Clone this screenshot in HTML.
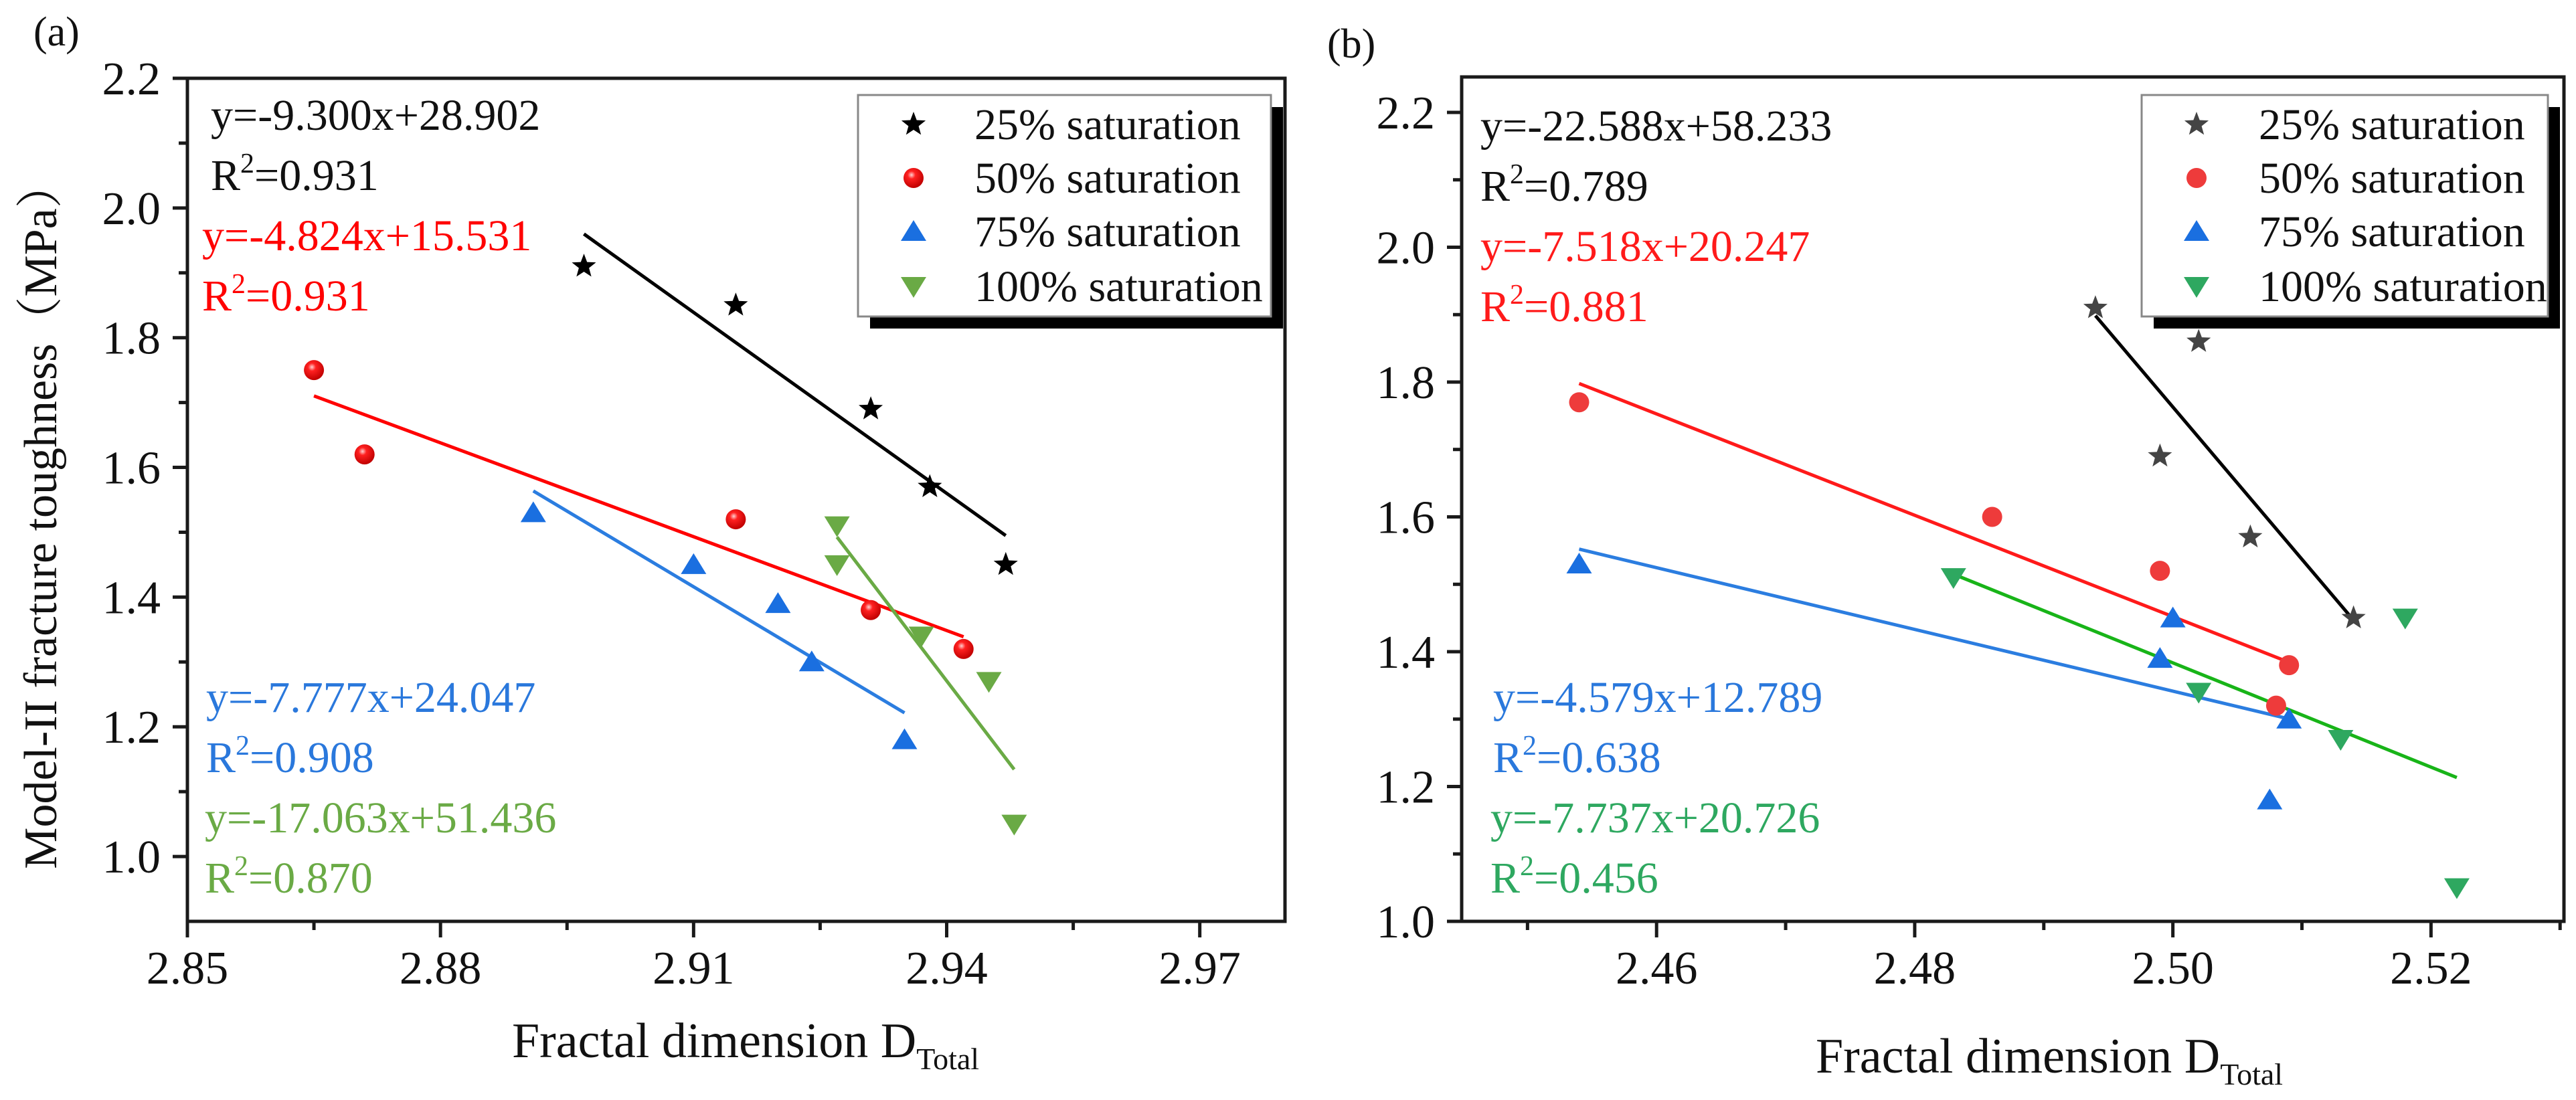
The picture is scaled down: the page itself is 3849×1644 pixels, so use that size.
<!DOCTYPE html>
<html><head><meta charset="utf-8">
<style>
html,body{margin:0;padding:0;background:#fff;}
svg{display:block;font-family:"Liberation Serif","Noto Serif CJK SC",serif;}
svg text{font-family:"Liberation Serif","Noto Serif CJK SC",serif;}
</style></head>
<body>
<svg id="fig" width="3849" height="1644" viewBox="0 0 3849 1644" xmlns="http://www.w3.org/2000/svg">
<defs>
<radialGradient id="sph" cx="0.4" cy="0.35" r="0.65">
<stop offset="0" stop-color="#ffd0d0"/><stop offset="0.3" stop-color="#ff2020"/><stop offset="1" stop-color="#c00000"/>
</radialGradient>
</defs>
</svg>
<script>
// ---------- Panel (a) data ----------
const aX25 = [2.897, 2.915, 2.931, 2.938, 2.947];
const aY25 = [1.91, 1.85, 1.69, 1.57, 1.45];
const aX50 = [2.865, 2.871, 2.915, 2.931, 2.942];
const aY50 = [1.75, 1.62, 1.52, 1.38, 1.32];
const aX75 = [2.891, 2.910, 2.920, 2.924, 2.935];
const aY75 = [1.53, 1.45, 1.39, 1.30, 1.18];
const aX100 = [2.927, 2.927, 2.937, 2.945, 2.948];
const aY100 = [1.51, 1.45, 1.34, 1.27, 1.05];
const aSlopes = [-9.300, -4.824, -7.777, -17.063];
const aIntercepts = [28.902, 15.531, 24.047, 51.436];
const aEqs = ["y=-9.300x+28.902", "y=-4.824x+15.531", "y=-7.777x+24.047", "y=-17.063x+51.436"];
const aR2 = ["0.931", "0.931", "0.908", "0.870"];
const aXTicks = [2.85, 2.88, 2.91, 2.94, 2.97];
const aXTickLabels = ["2.85", "2.88", "2.91", "2.94", "2.97"];
const aYTicks = [1.0, 1.2, 1.4, 1.6, 1.8, 2.0, 2.2];
const aYTickLabels = ["1.0", "1.2", "1.4", "1.6", "1.8", "2.0", "2.2"];
// ---------- Panel (b) data ----------
const bX25 = [2.494, 2.502, 2.499, 2.506, 2.514];
const bY25 = [1.91, 1.86, 1.69, 1.57, 1.45];
const bX50 = [2.454, 2.486, 2.499, 2.508, 2.509];
const bY50 = [1.77, 1.60, 1.52, 1.32, 1.38];
const bX75 = [2.454, 2.499, 2.500, 2.5075, 2.509];
const bY75 = [1.53, 1.39, 1.45, 1.18, 1.30];
const bX100 = [2.483, 2.502, 2.513, 2.518, 2.522];
const bY100 = [1.51, 1.34, 1.27, 1.45, 1.05];
const bSlopes = [-22.588, -7.518, -4.579, -7.737];
const bIntercepts = [58.233, 20.247, 12.789, 20.726];
const bEqs = ["y=-22.588x+58.233", "y=-7.518x+20.247", "y=-4.579x+12.789", "y=-7.737x+20.726"];
const bR2 = ["0.789", "0.881", "0.638", "0.456"];
const bXTicks = [2.46, 2.48, 2.50, 2.52];
const bXTickLabels = ["2.46", "2.48", "2.50", "2.52"];
const bYTicks = [1.0, 1.2, 1.4, 1.6, 1.8, 2.0, 2.2];
const bYTickLabels = ["1.0", "1.2", "1.4", "1.6", "1.8", "2.0", "2.2"];
const legendLabels = ["25% saturation", "50% saturation", "75% saturation", "100% saturation"];

const NS = "http://www.w3.org/2000/svg";
const FONT = '"Liberation Serif", "Noto Serif CJK SC", serif';
const svg = document.getElementById("fig");
function mk(tag, attrs, parent) {
  const e = document.createElementNS(NS, tag);
  for (const k in attrs) e.setAttribute(k, attrs[k]);
  if (tag === "text") e.setAttribute("font-family", FONT);
  (parent || svg).appendChild(e);
  return e;
}
function scale(d0, d1, r0, r1) { return v => r0 + (v - d0) / (d1 - d0) * (r1 - r0); }

function starPts(cx, cy, R) {
  const r = R * 0.42; let p = [];
  for (let i = 0; i < 10; i++) {
    const a = -Math.PI / 2 + i * Math.PI / 5, rr = i % 2 ? r : R;
    p.push((cx + rr * Math.cos(a)).toFixed(1) + "," + (cy + rr * Math.sin(a)).toFixed(1));
  }
  return p.join(" ");
}
function marker(g, type, cx, cy, color) {
  let e;
  if (type === "star") e = mk("polygon", {points: starPts(cx, cy, 19), fill: color}, g);
  else if (type === "sphere") e = mk("circle", {cx: cx, cy: cy, r: 15, fill: "url(#sph)"}, g);
  else if (type === "circle") e = mk("circle", {cx: cx, cy: cy, r: 15, fill: color}, g);
  else if (type === "up") e = mk("polygon", {points: `${cx-19},${cy+14} ${cx+19},${cy+14} ${cx},${cy-17}`, fill: color}, g);
  else e = mk("polygon", {points: `${cx-19},${cy-14} ${cx+19},${cy-14} ${cx},${cy+17}`, fill: color}, g);
  return e;
}

function panel(cfg) {
  const g = mk("g", {});
  
  
  const X = scale(cfg.xd[0], cfg.xd[1], cfg.L, cfg.R);
  const Y = scale(cfg.yd[0], cfg.yd[1], cfg.B, cfg.T);
  const fr = mk("rect", {x: cfg.L, y: cfg.T, width: cfg.R - cfg.L, height: cfg.B - cfg.T, fill: "none", stroke: "#1a1a1a", "stroke-width": 5}, g);
  
  
  const yt = mk("g", {}, g);
  
  
  cfg.yTicks.forEach((v, i) => {
    const y = Y(v);
    mk("line", {x1: cfg.L - 22, x2: cfg.L, y1: y, y2: y, stroke: "#1a1a1a", "stroke-width": 5}, yt);
    const t = mk("text", {x: cfg.L - 40, y: y + 24, "font-size": 70, "text-anchor": "end", fill: "#111"}, yt);
    t.textContent = cfg.yTickLabels[i];
    
    
    const m = v + 0.1;
    if (m < cfg.yd[1]) { const ym = Y(m); mk("line", {x1: cfg.L - 13, x2: cfg.L, y1: ym, y2: ym, stroke: "#1a1a1a", "stroke-width": 5}, yt); }
  });
  const xt = mk("g", {}, g);
  
  
  cfg.xTicks.forEach((v, i) => {
    const x = X(v);
    mk("line", {x1: x, x2: x, y1: cfg.B, y2: cfg.B + 24, stroke: "#1a1a1a", "stroke-width": 5}, xt);
    const t = mk("text", {x: x, y: cfg.B + 93, "font-size": 70, "text-anchor": "middle", fill: "#111"}, xt);
    t.textContent = cfg.xTickLabels[i];
    
    
  });
  const step = cfg.xTicks[1] - cfg.xTicks[0];
  for (let v = cfg.xTicks[0] - step / 2; v < cfg.xd[1] + 1e-9; v += step) {
    if (v <= cfg.xd[0]) continue;
    const x = X(v);
    mk("line", {x1: x, x2: x, y1: cfg.B, y2: cfg.B + 13, stroke: "#1a1a1a", "stroke-width": 5}, xt);
  }
  const xtl = mk("text", {x: cfg.xTitleX, y: cfg.xTitleY, "font-size": 74, fill: "#111"}, g);
  
  
  xtl.innerHTML = 'Fractal dimension D<tspan font-size="46" dy="18">Total</tspan>';
  const pl = mk("text", {x: cfg.labX, y: cfg.labY, "font-size": 62, fill: "#111"}, g);
  pl.textContent = cfg.label;
  
  
  const series = [[cfg.x25, cfg.y25], [cfg.x50, cfg.y50], [cfg.x75, cfg.y75], [cfg.x100, cfg.y100]];
  const names = ["25", "50", "75", "100"];
  series.forEach((s, k) => {
    const x0 = Math.min(...s[0]), x1 = Math.max(...s[0]);
    const ln = mk("line", {x1: X(x0), y1: Y(cfg.slopes[k] * x0 + cfg.ints[k]), x2: X(x1), y2: Y(cfg.slopes[k] * x1 + cfg.ints[k]), stroke: cfg.lineColors[k], "stroke-width": 5}, g);
    
    
  });
  series.forEach((s, k) => {
    const sg = mk("g", {}, g);
    
    
    s[0].forEach((xv, i) => {
      const m = marker(sg, cfg.types[k], X(xv), Y(s[1][i]), cfg.colors[k]);
      
      
    });
  });
  cfg.eqPos.forEach((p, k) => {
    const e = mk("text", {x: p[0], y: p[1], "font-size": 66, fill: cfg.textColors[k]}, g);
    e.textContent = cfg.eqs[k];
    
    
    const r = mk("text", {x: p[0], y: p[1] + 90, "font-size": 66, fill: cfg.textColors[k]}, g);
    r.innerHTML = 'R<tspan font-size="42" dy="-26">2</tspan><tspan dy="26">=' + cfg.r2[k] + '</tspan>';
    
    
  });
  const lg = mk("g", {}, g);
  
  
  const lb = cfg.leg;
  mk("rect", {x: lb[0] + 18, y: lb[1] + 18, width: lb[2], height: lb[3], fill: "#000"}, lg);
  mk("rect", {x: lb[0], y: lb[1], width: lb[2], height: lb[3], fill: "#fff", stroke: "#888", "stroke-width": 3}, lg);
  const rows = [208, 288, 368, 450];
  legendLabels.forEach((txt, k) => {
    const en = mk("g", {}, lg);
    
    
    const sw = marker(en, cfg.types[k], lb[0] + cfg.symDx, rows[k] - 22, cfg.colors[k]);
    
    
    const t = mk("text", {x: lb[0] + cfg.txtDx, y: rows[k], "font-size": 66, fill: "#111"}, en);
    t.textContent = txt;
  });
}

panel({
  name: "panel-a", label: "(a)", labX: 50, labY: 68,
  L: 280, R: 1920, T: 117, B: 1377, xd: [2.85, 2.9801], yd: [0.9, 2.2],
  xTicks: aXTicks, xTickLabels: aXTickLabels, yTicks: aYTicks, yTickLabels: aYTickLabels,
  x25: aX25, y25: aY25, x50: aX50, y50: aY50, x75: aX75, y75: aY75, x100: aX100, y100: aY100,
  slopes: aSlopes, ints: aIntercepts, eqs: aEqs, r2: aR2,
  types: ["star", "sphere", "up", "down"],
  colors: ["#000", "#ff0000", "#1a6fe0", "#6aaa45"],
  lineColors: ["#000", "#ff0000", "#2b7de0", "#6aaa45"],
  textColors: ["#111", "#ff0000", "#2a78dc", "#6aaa45"],
  eqPos: [[315, 194], [302, 374], [308, 1064], [306, 1244]],
  leg: [1282, 142, 617, 331], symDx: 83, txtDx: 174,
  xTitleX: 765, xTitleY: 1580
});
panel({
  name: "panel-b", label: "(b)", labX: 1983, labY: 86,
  L: 2184, R: 3831, T: 115, B: 1377, xd: [2.4449, 2.5303], yd: [1.0, 2.2526],
  xTicks: bXTicks, xTickLabels: bXTickLabels, yTicks: bYTicks, yTickLabels: bYTickLabels,
  x25: bX25, y25: bY25, x50: bX50, y50: bY50, x75: bX75, y75: bY75, x100: bX100, y100: bY100,
  slopes: bSlopes, ints: bIntercepts, eqs: bEqs, r2: bR2,
  types: ["star", "circle", "up", "down"],
  colors: ["#444", "#ee3b3b", "#1a6fe0", "#2ea860"],
  lineColors: ["#000", "#ff1a1a", "#2b7de0", "#18b418"],
  textColors: ["#111", "#ff1a1a", "#2a78dc", "#2ea860"],
  eqPos: [[2212, 210], [2212, 390], [2231, 1064], [2227, 1244]],
  leg: [3200, 142, 607, 331], symDx: 82, txtDx: 175,
  xTitleX: 2713, xTitleY: 1603
});
const yt = mk("text", {x: 0, y: 0, "font-size": 70, "text-anchor": "middle", fill: "#111", transform: "translate(84,770) rotate(-90)"});
yt.textContent = "Model-II fracture toughness（MPa）";


</script>
</body></html>
